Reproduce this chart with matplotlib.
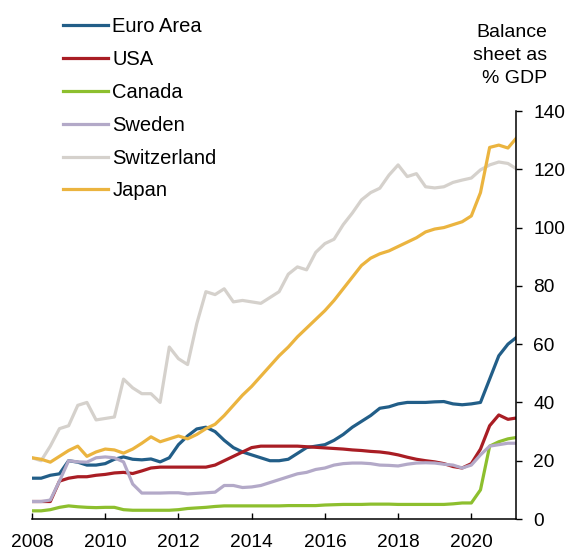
import numpy as np
import matplotlib
matplotlib.use("Agg")
import matplotlib.pyplot as plt

plt.rcParams['font.family'] = ['Liberation Sans', 'DejaVu Sans']

# Quarterly dates 2008Q1 .. 2021Q2
dates = 2008 + 0.25 * np.arange(54)

euro_area = [14, 14, 15, 15.5, 20, 19.5, 18.5, 18.5, 19, 20.5, 21.3, 20.5, 20.3, 20.6, 19.6, 21,
             25.5, 28.5, 30.9, 31.5, 30, 27, 24.5, 23, 22, 21, 20, 20, 20.5, 22.5, 24.5, 25,
             25.5, 27, 29, 31.5, 33.5, 35.5, 38, 38.5, 39.5, 40, 40, 40, 40.2, 40.3, 39.5, 39.2,
             39.5, 40, 48, 56, 60, 62.5]
usa = [6, 6, 6, 13, 14, 14.5, 14.5, 15, 15.3, 15.8, 16, 15.6, 16.5, 17.5, 17.8, 17.8,
       17.8, 17.8, 17.8, 17.8, 18.5, 20, 21.5, 23, 24.5, 25, 25, 25, 25, 25, 24.8, 24.6,
       24.4, 24.2, 24, 23.7, 23.5, 23.2, 23, 22.6, 22, 21.2, 20.5, 20, 19.6, 19, 18, 17.5,
       19, 24, 32, 35.7, 34.2, 34.7]
canada = [2.8, 2.8, 3.2, 4, 4.5, 4.2, 4, 3.9, 4, 4, 3.2, 3, 3, 3, 3, 3,
          3.2, 3.6, 3.8, 4, 4.3, 4.5, 4.5, 4.5, 4.5, 4.5, 4.5, 4.5, 4.6, 4.6, 4.6, 4.6,
          4.8, 4.9, 5, 5, 5, 5.1, 5.1, 5.1, 5, 5, 5, 5, 5, 5, 5.2, 5.5,
          5.5, 10, 25, 26.5, 27.5, 28]
sweden = [6, 6, 6.5, 13, 20, 19.6, 19.5, 21, 21.3, 21, 19.6, 12, 8.9, 8.9, 8.9, 9,
          9, 8.6, 8.8, 9, 9.2, 11.5, 11.5, 10.8, 11, 11.5, 12.5, 13.5, 14.5, 15.5, 16, 17,
          17.5, 18.5, 19, 19.2, 19.2, 19, 18.5, 18.4, 18.2, 18.8, 19.2, 19.3, 19.2, 18.8, 18.5, 17.5,
          18.5, 22, 25, 25.5, 26, 26]
switzerland = [21, 20, 25, 31, 32, 39, 40, 34, 34.5, 35, 48, 45, 43, 43, 40, 59,
               55, 53, 67, 78, 77, 79, 74.5, 75, 74.5, 74, 76, 78, 84, 86.5, 85.5, 91.5,
               94.5, 96, 101, 105, 109.5, 112, 113.5, 118, 121.5, 117.5, 118.5, 114, 113.6, 114, 115.5, 116.3,
               117, 119.8, 121.5, 122.5, 122, 120]
japan = [21, 20.5, 19.5, 21.5, 23.5, 25, 21.5, 23, 24, 23.7, 22.6, 24, 26, 28.2, 26.5, 27.5,
         28.5, 27.5, 29, 31, 32.5, 35.5, 39, 42.5, 45.5, 49, 52.5, 56, 59, 62.5, 65.5, 68.5,
         71.5, 75, 79, 83, 87, 89.5, 91, 92, 93.5, 95, 96.5, 98.5, 99.5, 100, 101, 102,
         104, 112, 127.5, 128.3, 127.3, 131]

series_names = ["Euro Area", "USA", "Canada", "Sweden", "Switzerland", "Japan"]
series_values = [euro_area, usa, canada, sweden, switzerland, japan]
colors = ["#225E88", "#A91D24", "#8DBF2E", "#B3A9C8", "#D5D1CC", "#EBB43F"]

x_ticks = [2008, 2010, 2012, 2014, 2016, 2018, 2020]
y_ticks = [0, 20, 40, 60, 80, 100, 120, 140]

FS = 13.8
LFS = 14.5
fig = plt.figure(figsize=(5.71, 5.52), dpi=100)
ax = fig.add_axes([32/571, 33/552, (516-32)/571, (519-111)/552])

for name, vals, c in zip(series_names, series_values, colors):
    ax.plot(dates, vals, color=c, lw=2.3, label=name, solid_joinstyle='round')

ax.set_xlim(2008, 2021.22)
ax.set_ylim(0, 140)
ax.set_xticks(x_ticks)
ax.set_xticklabels([str(t) for t in x_ticks])
ax.set_yticks(y_ticks)
ax.yaxis.tick_right()
for s in ["top", "left"]:
    ax.spines[s].set_visible(False)
for s in ["bottom", "right"]:
    ax.spines[s].set_linewidth(1.1)
    ax.spines[s].set_color("black")
ax.tick_params(axis='x', direction='in', length=4.5, width=1.0, pad=11, labelsize=FS)
ax.tick_params(axis='y', direction='out', length=4.5, width=1.0, pad=8, labelsize=FS, right=True, left=False)

leg = fig.legend(loc='upper left', bbox_to_anchor=(63/571, 1 - 17/552), frameon=False,
                 fontsize=LFS, handlelength=2.25, handletextpad=0.2, labelspacing=0.69,
                 borderpad=0, borderaxespad=0)

fig.text(547/571, 1 - 24/552, "Balance\nsheet as\n% GDP", ha='right', va='top',
         fontsize=14, linespacing=1.47)

fig.savefig("out.png", dpi=100)
